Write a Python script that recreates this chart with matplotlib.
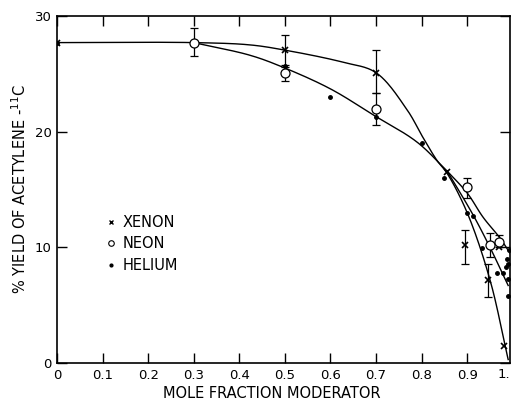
import numpy as np
import matplotlib
matplotlib.use("Agg")
import matplotlib.pyplot as plt
from matplotlib.lines import Line2D

# --- punkty pomiarowe ---
xenon_x = [0.0, 0.5, 0.7, 0.855, 0.895, 0.945, 0.97, 0.98]
xenon_y = [27.7, 27.1, 25.1, 16.5, 10.2, 7.2, 10.0, 1.5]

neon_x = [0.3, 0.5, 0.7, 0.9, 0.95, 0.97]
neon_y = [27.7, 25.1, 22.0, 15.2, 10.2, 10.5]

helium_x = [0.0, 0.5, 0.6, 0.7, 0.8, 0.85, 0.9, 0.913, 0.933, 0.965,
            0.979, 0.985, 0.99, 0.987, 0.992, 0.99, 0.99]
helium_y = [27.7, 25.7, 23.0, 21.3, 19.0, 16.0, 13.0, 12.7, 9.9, 7.8,
            7.8, 8.3, 8.6, 9.0, 9.8, 7.3, 5.8]

# słupki błędów (x, środek, dół, góra)
xenon_err_x = [0.5, 0.7, 0.895, 0.945]
xenon_err_y = [27.1, 25.1, 10.2, 7.2]
xenon_err_lo = [25.8, 23.3, 8.6, 5.7]
xenon_err_hi = [28.4, 27.1, 11.5, 8.6]

neon_err_x = [0.3, 0.5, 0.7, 0.9, 0.95, 0.97]
neon_err_y = [27.7, 25.1, 22.0, 15.2, 10.2, 10.5]
neon_err_lo = [26.5, 24.4, 20.6, 14.3, 9.2, 10.0]
neon_err_hi = [29.0, 25.6, 23.3, 16.0, 11.2, 11.1]

# krzywe rysowane ręką (odczytane punkty)
curve_xe_x = [0.0, 0.3, 0.424, 0.5, 0.628, 0.7, 0.768, 0.803, 0.834, 0.856, 0.9, 0.95, 0.99]
curve_xe_y = [27.7, 27.7, 27.5, 27.05, 26.0, 25.1, 21.9, 19.5, 17.5, 16.4, 13.0, 7.2, 0.3]

curve_low_x = [0.3, 0.424, 0.494, 0.6, 0.696, 0.79, 0.856]
curve_low_y = [27.7, 26.6, 25.6, 23.7, 21.4, 19.1, 16.6]

curve_ne_x = [0.856, 0.9, 0.935, 0.972, 0.994]
curve_ne_y = [16.6, 14.7, 12.6, 10.8, 9.5]

curve_he_x = [0.856, 0.913, 0.95, 0.99]
curve_he_y = [16.6, 12.8, 10.0, 6.7]

x_ticks = [0.0, 0.1, 0.2, 0.3, 0.4, 0.5, 0.6, 0.7, 0.8, 0.9]
x_ticklabels = ["0", "0.1", "0.2", "0.3", "0.4", "0.5", "0.6", "0.7", "0.8", "0.9"]
y_ticks = [0, 10, 20, 30]


def smooth(ax, xs, ys, n=25):
    # centripetalny Catmull-Rom w pikselach, żeby nie było pętli
    pts = ax.transData.transform(np.column_stack([xs, ys]))
    pts = np.vstack([2 * pts[0] - pts[1], pts, 2 * pts[-1] - pts[-2]])
    out = [pts[1:2]]
    for i in range(1, len(pts) - 2):
        p0, p1, p2, p3 = pts[i - 1], pts[i], pts[i + 1], pts[i + 2]
        t0 = 0.0
        t1 = t0 + np.linalg.norm(p1 - p0) ** 0.5
        t2 = t1 + np.linalg.norm(p2 - p1) ** 0.5
        t3 = t2 + np.linalg.norm(p3 - p2) ** 0.5
        t = np.linspace(t1, t2, n)[1:, None]
        a1 = (t1 - t) / (t1 - t0) * p0 + (t - t0) / (t1 - t0) * p1
        a2 = (t2 - t) / (t2 - t1) * p1 + (t - t1) / (t2 - t1) * p2
        a3 = (t3 - t) / (t3 - t2) * p2 + (t - t2) / (t3 - t2) * p3
        b1 = (t2 - t) / (t2 - t0) * a1 + (t - t0) / (t2 - t0) * a2
        b2 = (t3 - t) / (t3 - t1) * a2 + (t - t1) / (t3 - t1) * a3
        out.append((t2 - t) / (t2 - t1) * b1 + (t - t1) / (t2 - t1) * b2)
    out = ax.transData.inverted().transform(np.vstack(out))
    return out[:, 0], out[:, 1]


plt.rcParams["font.family"] = ["DejaVu Sans"]
fig = plt.figure(figsize=(5.11, 4.01), dpi=100)
ax = fig.add_axes([57 / 511, 38 / 401, (510 - 57) / 511, (363 - 16) / 401])
ax.set_xlim(0, 0.994)
ax.set_ylim(0, 30)

lw = 1.0
for cx, cy in [(curve_xe_x, curve_xe_y), (curve_low_x, curve_low_y),
               (curve_ne_x, curve_ne_y), (curve_he_x, curve_he_y)]:
    sx, sy = smooth(ax, cx, cy)
    ax.plot(sx, sy, color="black", lw=lw)

ax.errorbar(xenon_err_x, xenon_err_y,
            yerr=[np.subtract(xenon_err_y, xenon_err_lo), np.subtract(xenon_err_hi, xenon_err_y)],
            fmt="none", ecolor="black", elinewidth=0.9, capsize=3, capthick=0.9)
ax.errorbar(neon_err_x, neon_err_y,
            yerr=[np.subtract(neon_err_y, neon_err_lo), np.subtract(neon_err_hi, neon_err_y)],
            fmt="none", ecolor="black", elinewidth=0.9, capsize=3, capthick=0.9)

ax.plot(xenon_x, xenon_y, "x", color="black", ms=4, mew=1.2, ls="none")
ax.plot(neon_x, neon_y, "o", mfc="white", mec="black", ms=6.5, mew=0.9, ls="none", zorder=5)
ax.plot(helium_x, helium_y, "o", color="black", ms=2.5, ls="none", zorder=6)

ax.set_xticks(x_ticks)
ax.set_xticklabels(x_ticklabels)
ax.set_yticks(y_ticks)
ax.tick_params(direction="in", length=7, width=1.0, top=True, right=True,
               labelsize=9.5, pad=4)
for s in ax.spines.values():
    s.set_linewidth(1.2)

# etykieta "1." przy prawym brzegu
ax.text(1.0, -0.015, "1.", transform=ax.transAxes, ha="right", va="top", fontsize=9.5)

ax.set_xlabel("MOLE FRACTION MODERATOR", fontsize=10.5)
ax.xaxis.set_label_coords((272 - 57) / 453, -0.065)
ax.set_ylabel(r"% YIELD OF ACETYLENE -$^{11}$C", fontsize=10.5)
ax.yaxis.set_label_coords(-0.062, 0.5)

handles = [
    Line2D([], [], marker="x", color="black", ls="none", ms=3.5, mew=1.0),
    Line2D([], [], marker="o", mfc="white", mec="black", ls="none", ms=4, mew=0.8),
    Line2D([], [], marker="o", color="black", ls="none", ms=2),
]
ax.legend(handles, ["XENON", "NEON", "HELIUM"], loc="upper left",
          bbox_to_anchor=(0.08, 0.465), frameon=False, fontsize=10.5,
          handlelength=0.6, handletextpad=0.5, labelspacing=0.45)

fig.savefig("out.png", dpi=100)
